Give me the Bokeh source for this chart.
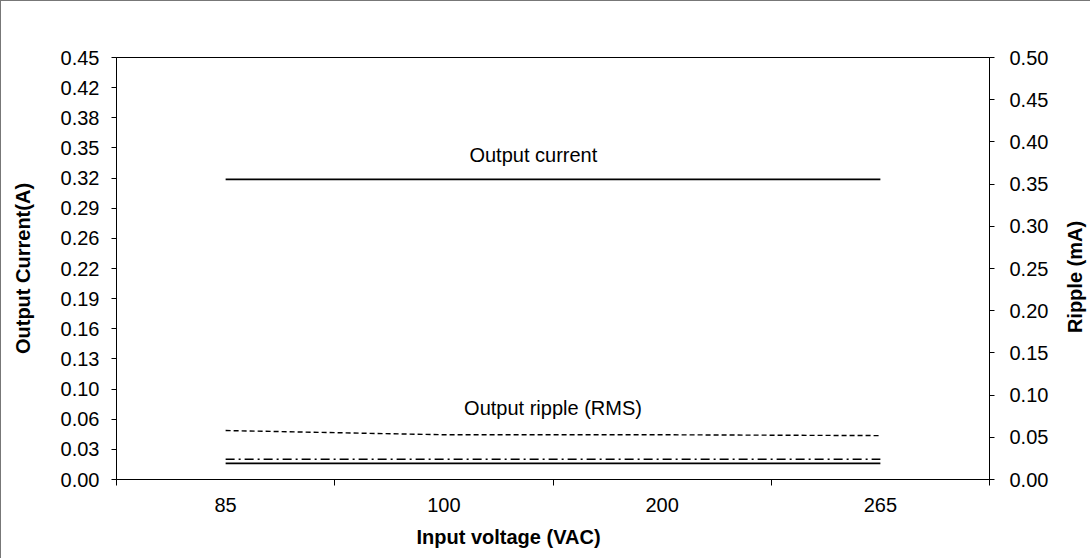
import math
from bokeh.plotting import figure
from bokeh.models import Range1d, LinearAxis, FixedTicker, Label, Title, Div
from bokeh.layouts import row
from bokeh.embed import file_html
from bokeh.resources import INLINE

# ---- data ----
voltages = ["85", "100", "200", "265"]
output_current = [0.32, 0.32, 0.32, 0.32]          # A (left axis)
ripple_rms = [0.058, 0.053, 0.053, 0.052]          # mA (right axis)
ripple_dashdot = [0.024, 0.024, 0.024, 0.024]      # mA (right axis)
ripple_solid = [0.019, 0.019, 0.019, 0.019]        # mA (right axis)

left_ticks = [0.0, 0.45 / 14, 0.9 / 14, 1.35 / 14, 1.8 / 14, 2.25 / 14, 2.7 / 14, 3.15 / 14,
              3.6 / 14, 4.05 / 14, 4.5 / 14, 4.95 / 14, 5.4 / 14, 5.85 / 14, 0.45]
left_tick_labels = ["0.00", "0.03", "0.06", "0.10", "0.13", "0.16", "0.19", "0.22",
                    "0.26", "0.29", "0.32", "0.35", "0.38", "0.42", "0.45"]
right_ticks = [0.0, 0.05, 0.10, 0.15, 0.20, 0.25, 0.30, 0.35, 0.40, 0.45, 0.50]
right_tick_labels = ["0.00", "0.05", "0.10", "0.15", "0.20", "0.25", "0.30", "0.35",
                     "0.40", "0.45", "0.50"]

FONT = "Liberation Sans"
TICK_FS = "20px"
TITLE_FS = "20px"
TXT = "black"
xs = [i + 0.5 for i in range(len(voltages))]

p = figure(width=1052, height=558, output_backend="svg", toolbar_location=None,
           x_range=Range1d(0, 4), y_range=Range1d(0, 0.45),
           min_border_left=115, min_border_right=64, min_border_top=56, min_border_bottom=80)
p.extra_y_ranges = {"ripple": Range1d(0, 0.5)}

p.xgrid.visible = False
p.ygrid.visible = False
p.outline_line_color = "black"
p.outline_line_width = 1
p.background_fill_color = "white"
p.border_fill_color = "white"
p.styles = {"border-left": "1px solid #777", "border-top": "1px solid #777"}

# x axis
xa = p.xaxis[0]
xa.ticker = FixedTicker(ticks=xs, minor_ticks=[0, 1, 2, 3, 4])
xa.major_label_overrides = {x: v for x, v in zip(xs, voltages)}
xa.major_tick_line_color = None
xa.major_tick_out = 0
xa.major_tick_in = 0
xa.minor_tick_line_color = "black"
xa.minor_tick_out = 6
xa.minor_tick_in = 0
xa.axis_line_color = "black"
xa.major_label_text_font = FONT
xa.major_label_text_font_size = TICK_FS
xa.major_label_text_color = TXT
xa.major_label_standoff = 12

# x axis title, placed left of centre as in the original
p.add_layout(Title(text="Input voltage (VAC)", align="left", offset=300, standoff=19,
                   text_font=FONT, text_font_size=TITLE_FS, text_font_style="bold",
                   text_color=TXT), "below")

# left axis
ya = p.yaxis[0]
ya.ticker = FixedTicker(ticks=left_ticks, minor_ticks=[])
ya.major_label_overrides = {t: l for t, l in zip(left_ticks, left_tick_labels)}
ya.major_tick_out = 5
ya.major_tick_in = 0
ya.axis_line_color = "black"
ya.axis_label = "Output Current(A)"
ya.axis_label_text_font = FONT
ya.axis_label_text_font_style = "bold"
ya.axis_label_text_font_size = TITLE_FS
ya.axis_label_text_color = TXT
ya.axis_label_standoff = 24
ya.major_label_text_font = FONT
ya.major_label_text_font_size = TICK_FS
ya.major_label_text_color = TXT
ya.major_label_standoff = 12

# right axis (its title is drawn beside the plot so it reads bottom-to-top)
ra = LinearAxis(y_range_name="ripple")
ra.ticker = FixedTicker(ticks=right_ticks, minor_ticks=[])
ra.major_label_overrides = {t: l for t, l in zip(right_ticks, right_tick_labels)}
ra.major_tick_out = 5
ra.major_tick_in = 0
ra.axis_line_color = "black"
ra.major_label_text_font = FONT
ra.major_label_text_font_size = TICK_FS
ra.major_label_text_color = TXT
ra.major_label_standoff = 15
p.add_layout(ra, "right")

# lines
p.line(xs, output_current, line_color="black", line_width=1.6)
p.line(xs, ripple_rms, y_range_name="ripple", line_color="black", line_width=1.4, line_dash="5 3")
p.line(xs, ripple_dashdot, y_range_name="ripple", line_color="black", line_width=1.6, line_dash="9 4 2 4")
p.line(xs, ripple_solid, y_range_name="ripple", line_color="black", line_width=1.8)

# annotations
p.add_layout(Label(x=1.91, y=0.3457, text="Output current", text_font=FONT, text_font_size=TICK_FS,
                   text_color=TXT, text_align="center", text_baseline="middle"))
p.add_layout(Label(x=2.0, y=0.0766, text="Output ripple (RMS)", text_font=FONT, text_font_size=TICK_FS,
                   text_color=TXT, text_align="center", text_baseline="middle"))

right_title = Div(
    text=('<div style="position:absolute; left:23px; top:276px; '
          'transform: translate(-50%, -50%) rotate(-90deg); white-space: nowrap; '
          'font-family: \'Liberation Sans\'; font-weight: bold; font-size: 20px; '
          'color: black;">Ripple (mA)</div>'),
    width=38, height=558, margin=0,
    styles={"position": "relative", "border-top": "1px solid #777", "background": "white"})

layout = row(p, right_title, spacing=0)

open("out.html", "w").write(file_html(layout, INLINE))
